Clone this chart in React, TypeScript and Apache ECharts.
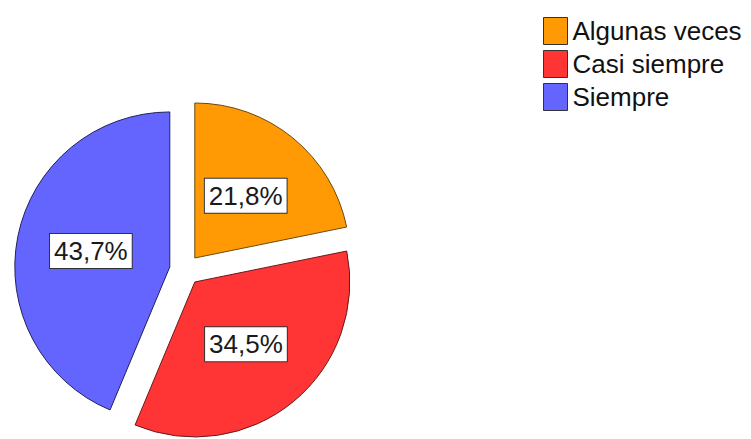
import React, { useEffect, useRef } from "react";
import * as echarts from "echarts";

const categories = ["Algunas veces", "Casi siempre", "Siempre"];
const percents = [21.8, 34.5, 43.7];
const colors = ["#FF9A05", "#FF3434", "#6464FF"];
const borderColors = ["#6b4a10", "#6b1a1a", "#22225a"];

export default function App() {
  const ref = useRef<HTMLDivElement>(null);
  useEffect(() => {
    if (!ref.current) return;
    const chart = echarts.init(ref.current, undefined, { renderer: "svg" });
    chart.setOption({
      animation: false,
      backgroundColor: "#ffffff",
      legend: {
        orient: "vertical",
        left: 538,
        top: 12,
        itemWidth: 24,
        itemHeight: 27,
        itemGap: 5,
        icon: "rect",
        selectedMode: false,
        itemStyle: { borderColor: "#333", borderWidth: 1 },
        textStyle: { fontFamily: "Liberation Sans", fontSize: 26, color: "#111" },
        data: categories,
      },
      series: [
        {
          type: "pie",
          center: [185, 270],
          radius: 155,
          startAngle: 90,
          clockwise: true,
          selectedMode: "multiple",
          selectedOffset: 15.5,
          emphasis: { disabled: true },
          label: {
            show: true,
            position: "inside",
            formatter: (p: any) => p.value.toFixed(1).replace(".", ",") + "%",
            fontFamily: "Liberation Sans",
            fontSize: 26,
            color: "#1a1a1a",
            backgroundColor: "#ffffff",
            borderColor: "#333",
            borderWidth: 1,
            padding: [5, 4, 3, 4],
          },
          labelLine: { show: false },
          data: categories.map((c, i) => ({
            name: c,
            value: percents[i],
            selected: true,
            itemStyle: { color: colors[i], borderColor: borderColors[i], borderWidth: 1 },
          })),
        },
      ],
    });
    return () => chart.dispose();
  }, []);
  return (
    <div
      ref={ref}
      style={{ position: "fixed", left: 0, top: 0, width: 751, height: 439 }}
    />
  );
}
